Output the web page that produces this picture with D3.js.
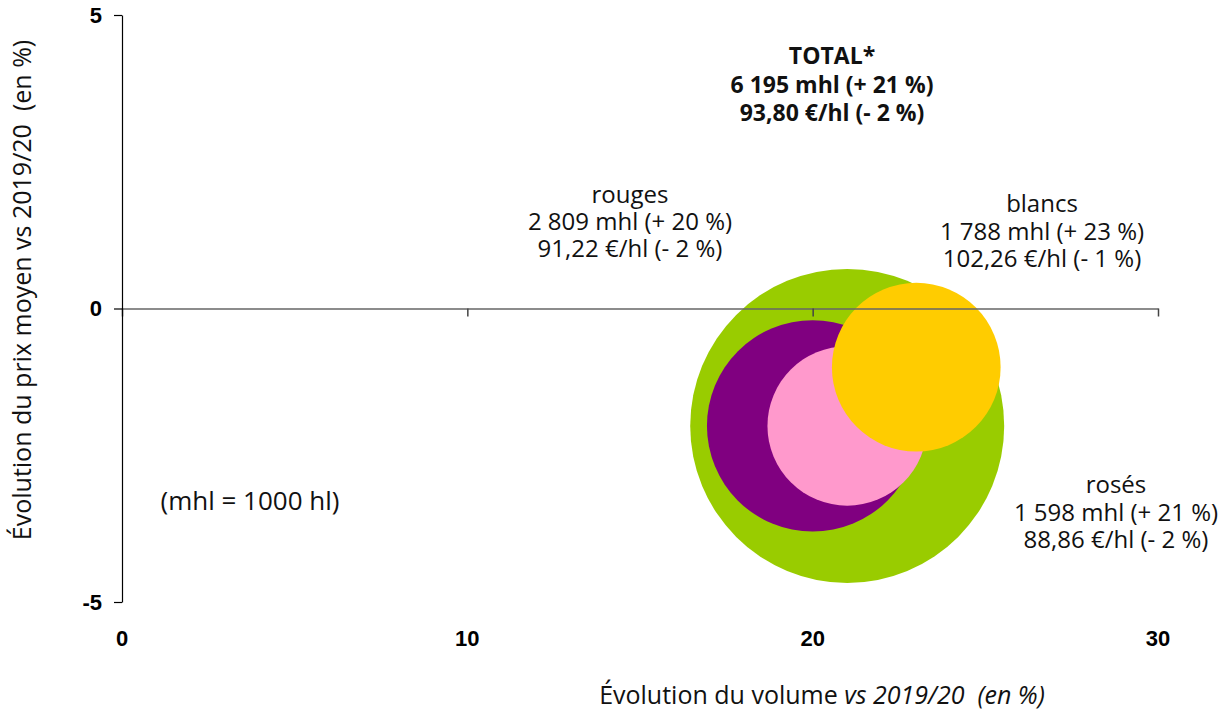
<!DOCTYPE html>
<html>
<head>
<meta charset="utf-8">
<script src="https://cdn.jsdelivr.net/npm/d3@7"></script>
<style>
  body { margin: 0; background: #fff; }
  svg { display: block; }
  text { white-space: pre; }
</style>
</head>
<body>
<div id="chart"></div>
<script>
// wine categories: volume change (%), price change (%), volume (mhl)
const categories = ["TOTAL*", "rouges", "rosés", "blancs"];
const volumeChange = [21, 20, 21, 23];
const priceChange = [-2, -2, -2, -1];
const volumes = [6195, 2809, 1598, 1788];
const prices = ["93,80", "91,22", "88,86", "102,26"];
const colors = ["#99cc00", "#800080", "#ff99cc", "#ffcc00"];
const xTicks = [0, 10, 20, 30];
const yTicks = [-5, 0, 5];

const width = 1225, height = 713;
const svg = d3.select("#chart").append("svg").attr("width", width).attr("height", height);

let x = d3.scaleLinear().domain([0, 30]).range([122, 1158]);
let y = d3.scaleLinear().domain([-5, 5]).range([602, 15]);
let r = d3.scaleSqrt().domain([0, 6195]).range([0, 157]);

// bubbles, biggest first
let data = categories.map((c, i) => ({
  name: c, dx: volumeChange[i], dy: priceChange[i], vol: volumes[i], price: prices[i], color: colors[i]
}));

svg.append("g").selectAll("circle").data(data).enter()
  .append("circle")
  .attr("cx", d => x(d.dx))
  .attr("cy", d => y(d.dy))
  .attr("r", d => r(d.vol))
  .attr("fill", d => d.color);

// x axis sits on y = 0
let xAxis = svg.append("g")
  .attr("transform", "translate(0," + y(0) + ")")
  .call(d3.axisBottom(x).tickValues(xTicks).tickSize(8).tickSizeOuter(0).tickFormat(""));
xAxis.select(".domain").attr("stroke", "#666").attr("stroke-width", 1.5);
xAxis.selectAll(".tick line").attr("stroke", "#444").attr("stroke-width", 1.5);

// x tick labels at bottom
svg.append("g").selectAll("text").data(xTicks).enter()
  .append("text")
  .attr("x", d => x(d))
  .attr("y", 646)
  .attr("text-anchor", "middle")
  .attr("font-family", "Liberation Sans, Arial, sans-serif")
  .attr("font-weight", "bold")
  .attr("font-size", "22px")
  .text(d => d);

let yAxis = svg.append("g")
  .attr("transform", "translate(" + x(0) + ",0)")
  .call(d3.axisLeft(y).tickValues(yTicks).tickSize(8).tickPadding(12).tickSizeOuter(0).tickFormat(d => String(d)));
yAxis.select(".domain").attr("stroke", "#000").attr("stroke-width", 1.2);
yAxis.selectAll(".tick line").attr("stroke", "#000").attr("stroke-width", 1.2);
yAxis.selectAll(".tick text")
  .attr("font-family", "Liberation Sans, Arial, sans-serif")
  .attr("font-weight", "bold")
  .attr("font-size", "22px")
  .attr("fill", "#000");

// labels
const labelFont = "'Open Sans', sans-serif";
let labelPos = {
  "TOTAL*": [832, 64],
  "rouges": [630, 203],
  "blancs": [1042, 212],
  "rosés": [1116, 493]
};
let lineGap = [28.5, 27, 27.5, 27.5];
data.forEach((d, i) => {
  let p = labelPos[d.name];
  let bold = d.name === "TOTAL*";
  let volTxt = d3.format(",")(d.vol).replace(",", " ");
  let lines = [
    d.name,
    volTxt + " mhl (+ " + d.dx + " %)",
    d.price + " €/hl (- " + Math.abs(d.dy) + " %)"
  ];
  let t = svg.append("text")
    .attr("text-anchor", "middle")
    .attr("font-family", labelFont)
    .attr("font-size", bold ? "23px" : "24px")
    .attr("font-weight", bold ? "bold" : "normal")
    .attr("fill", "#111");
  lines.forEach((l, k) => {
    t.append("tspan").attr("x", p[0]).attr("y", p[1] + k * lineGap[i]).text(l);
  });
});

svg.append("text")
  .attr("x", 250).attr("y", 510)
  .attr("text-anchor", "middle")
  .attr("font-family", "'Open Sans', sans-serif")
  .attr("font-size", "26px")
  .attr("fill", "#111")
  .text("(mhl = 1000 hl)");

// axis titles
let xt = svg.append("text")
  .attr("x", 822).attr("y", 704)
  .attr("text-anchor", "middle")
  .attr("font-family", "'Open Sans', sans-serif")
  .attr("font-size", "25px")
  .attr("fill", "#111");
xt.append("tspan").text("Évolution du volume ");
xt.append("tspan").attr("font-style", "italic").text("vs 2019/20  (en %)");

svg.append("text")
  .attr("transform", "translate(31,290) rotate(-90)")
  .attr("text-anchor", "middle")
  .attr("font-family", "'Open Sans', sans-serif")
  .attr("font-size", "25px")
  .attr("fill", "#111")
  .text("Évolution du prix moyen vs 2019/20  (en %)");
</script>
</body>
</html>
